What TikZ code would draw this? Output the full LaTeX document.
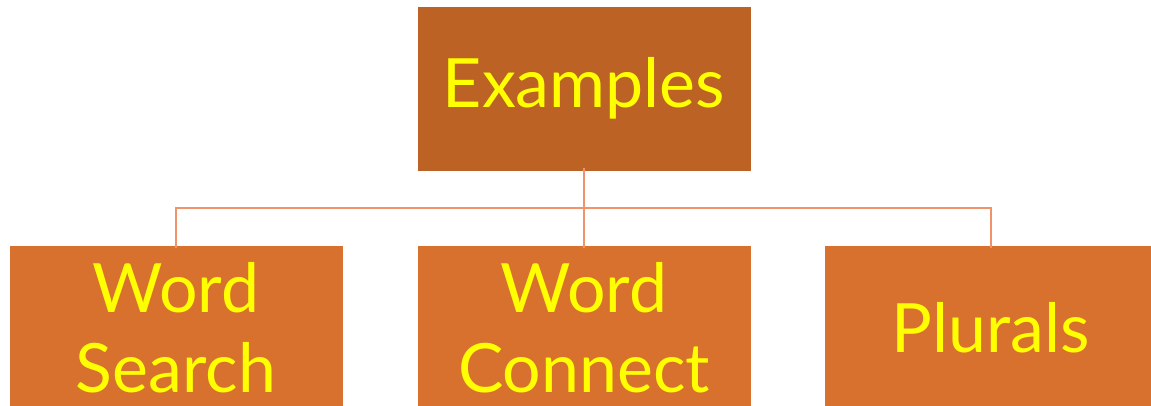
\documentclass[tikz,border=0pt]{standalone}
\usepackage{fontspec}
\setmainfont{Lato}
\definecolor{topfill}{HTML}{BC6224}
\definecolor{botfill}{HTML}{D8712D}
\definecolor{linkc}{HTML}{F0936A}
\definecolor{txt}{HTML}{FFFF00}
\tikzset{
  box/.style={rectangle, draw=white, line width=0.6pt, minimum width=334pt, minimum height=165pt, inner sep=0pt, text=txt, align=center, font=\fontsize{68}{80}\selectfont},
  topbox/.style={box, fill=topfill},
  botbox/.style={box, fill=botfill},
  link/.style={draw=linkc, line width=2pt}
}
\begin{document}
\begin{tikzpicture}[x=1pt,y=-1pt]
\useasboundingbox (0,0) rectangle (1151,406);
\clip (0,0) rectangle (1151,406);
\node[topbox] (top) at (584,88.5) {Examples};
\node[botbox] (ws) at (176,327.5) {Word\\Search};
\node[botbox] (wc) at (584,327.5) {Word\\Connect};
\node[botbox] (pl) at (991,327.5) {Plurals};
\coordinate (hub) at (584,208);
\coordinate (hl) at (176,208);
\coordinate (hr) at (991,208);
\draw[link] ([yshift=3pt]top.south) -- ([yshift=-3pt]wc.north);
\draw[link] ([yshift=-3pt]ws.north) -- (hl) -- (hr) -- ([yshift=-3pt]pl.north);
\end{tikzpicture}
\end{document}
